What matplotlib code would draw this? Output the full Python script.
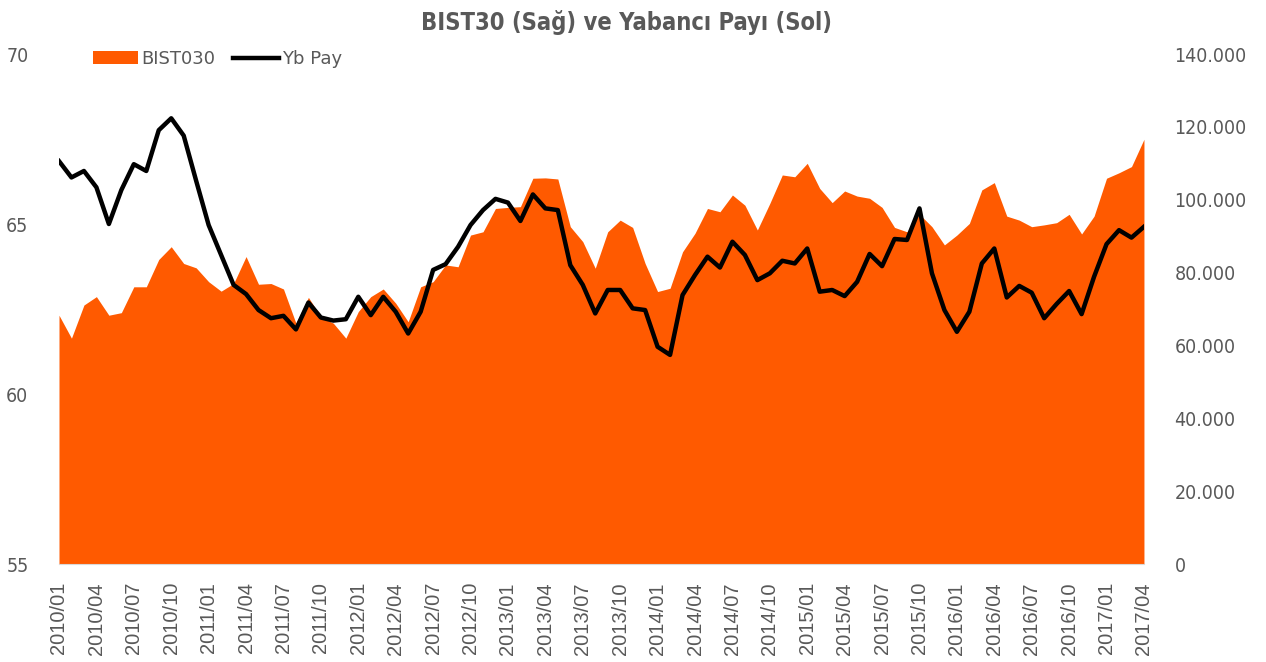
import matplotlib
matplotlib.use('Agg')
import matplotlib.pyplot as plt
import numpy as np
from matplotlib.ticker import FuncFormatter

# monthly, 2010/01 .. 2017/04
months = ['%d/%02d' % (y, m) for y in range(2010, 2018) for m in range(1, 13)][:88]

# BIST030 index level (right axis)
bist030 = [68300, 62000, 71100, 73400, 68300, 69000, 76100, 76100, 83600, 87100,
           82500, 81300, 77500, 74900, 77000, 84400, 76800, 77000, 75500, 66100,
           73200, 67900, 66100, 62000, 69300, 73400, 75500, 71600, 66500, 76100,
           77500, 82100, 81600, 90300, 91200, 97600, 97900, 98100, 105900, 106000,
           105700, 92600, 88500, 81200, 91200, 94400, 92400, 82500, 74800, 75700,
           85700, 90800, 97600, 96700, 101300, 98500, 91700, 99000, 106800, 106300,
           110000, 103100, 99200, 102400, 101000, 100400, 97900, 92400, 91200, 96000,
           92600, 87600, 90300, 93500, 102700, 104700, 95500, 94400, 92600, 93100,
           93700, 96000, 90600, 95500, 105900, 107400, 109100, 116600]

# foreign share (left axis)
yb_pay = [66.85, 66.37, 66.56, 66.08, 65.00, 66.00, 66.76, 66.56, 67.76, 68.11,
          67.60, 66.27, 64.97, 64.09, 63.21, 62.94, 62.47, 62.23, 62.30, 61.90,
          62.69, 62.25, 62.16, 62.20, 62.86, 62.32, 62.86, 62.42, 61.78, 62.42,
          63.65, 63.82, 64.33, 64.97, 65.41, 65.74, 65.63, 65.09, 65.87, 65.46,
          65.41, 63.79, 63.21, 62.37, 63.06, 63.06, 62.52, 62.47, 61.39, 61.15,
          62.91, 63.50, 64.04, 63.72, 64.48, 64.09, 63.35, 63.55, 63.92, 63.84,
          64.28, 63.01, 63.06, 62.88, 63.30, 64.12, 63.76, 64.56, 64.53, 65.46,
          63.55, 62.47, 61.83, 62.42, 63.84, 64.28, 62.84, 63.18, 62.98, 62.23,
          62.65, 63.03, 62.35, 63.45, 64.41, 64.82, 64.60, 64.92]

orange = '#FF5A00'
gray = '#595959'
x = np.arange(len(months))

fig = plt.figure(figsize=(12.66, 6.62), dpi=100)
ax = fig.add_axes([0.0466, 0.148, 0.857, 0.7704])
ax2 = ax.twinx()

ax2.fill_between(x, 0, bist030, color=orange, linewidth=0, label='BIST030')
ax.plot(x, yb_pay, color='black', linewidth=3.2, label='Yb Pay')

ax.set_zorder(ax2.get_zorder() + 1)
ax.patch.set_visible(False)

ax.set_xlim(0, len(months) - 1)
ax.set_ylim(55, 70)
ax.set_yticks([55, 60, 65, 70])
ax2.set_ylim(0, 140000)
ax2.set_yticks(np.arange(0, 140001, 20000))
ax2.yaxis.set_major_formatter(FuncFormatter(lambda v, p: '{:,}'.format(int(v)).replace(',', '.')))

ax.set_xticks(x[::3])
ax.set_xticklabels(months[::3], rotation=90, fontsize=14.5, color=gray,
                   family='Liberation Sans')

for a in (ax, ax2):
    for s in a.spines.values():
        s.set_visible(False)
    a.tick_params(axis='both', length=0, colors=gray)
ax.spines['bottom'].set_visible(True)
ax.spines['bottom'].set_color('#d9d9d9')
ax.tick_params(axis='x', pad=13)
ax.tick_params(axis='y', pad=22)
ax2.tick_params(axis='y', pad=22)
for lbl in ax.get_yticklabels() + ax2.get_yticklabels():
    lbl.set_fontsize(14)
    lbl.set_fontstretch('condensed')
    lbl.set_color(gray)

fig.suptitle('BIST30 (Sağ) ve Yabancı Payı (Sol)', x=0.495, y=0.985,
             fontsize=17, fontweight='bold', color=gray, fontstretch='condensed')

h1, l1 = ax2.get_legend_handles_labels()
h2, l2 = ax.get_legend_handles_labels()
leg = ax.legend(h1 + h2, l1 + l2, loc='upper left', bbox_to_anchor=(0.016, 1.04),
                ncol=2, frameon=False, fontsize=13, handlelength=2.5,
                columnspacing=1.0, handletextpad=0.2)
for t in leg.get_texts():
    t.set_color(gray)

fig.savefig('out.png', dpi=100)
